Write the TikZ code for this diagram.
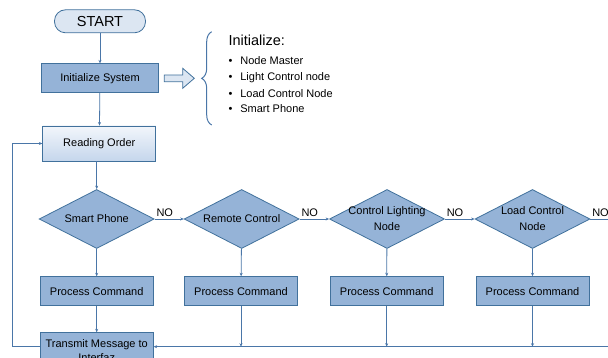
\documentclass[tikz,border=0pt]{standalone}
\usepackage{fontspec}
\setmainfont{Liberation Sans}
\usetikzlibrary{shapes.geometric,arrows.meta,decorations.pathreplacing,calc}
\definecolor{bfill}{HTML}{95B3D7}
\definecolor{bdraw}{HTML}{41719C}
\definecolor{lcol}{HTML}{4A76A8}
\definecolor{sfill}{HTML}{DCE6F2}
\definecolor{rtop}{HTML}{F2F6FB}
\definecolor{rbot}{HTML}{C5D6EC}
\begin{document}
\begin{tikzpicture}[x=1pt,y=-1pt,
  font=\fontsize{11}{13.5}\selectfont,
  startbox/.style={draw=bdraw, fill=sfill, line width=0.8pt, rounded corners=11pt,
    minimum width=91pt, minimum height=23pt, inner sep=0pt, font=\fontsize{14.5}{16}\selectfont},
  pbox/.style={draw=bdraw, fill=bfill, line width=0.8pt, minimum width=113pt,
    minimum height=29pt, inner sep=1pt},
  rbox/.style={draw=bdraw, top color=rtop, bottom color=rbot, line width=0.8pt,
    minimum width=113pt, minimum height=35pt, inner sep=1pt},
  dia/.style={shape=diamond, draw=bdraw, fill=bfill, line width=0.8pt,
    minimum width=115pt, minimum height=59pt, inner sep=0pt},
  conn/.style={draw=lcol, line width=0.8pt, -{Stealth[length=3.5pt,width=3pt]}},
  plain/.style={draw=lcol, line width=0.8pt},
  nolab/.style={anchor=south west, inner sep=1.5pt},
  itm/.style={anchor=west, inner sep=0pt, text height=8pt, text depth=2pt}
]
\useasboundingbox (0,0) rectangle (608,358);
\clip (0,0) rectangle (608,358);

% main column
\node[startbox] (start) at (100,21.3) {START};
\node[pbox, minimum width=117pt] (init) at (100,78.3) {Initialize System};
\node[rbox] (read) at (99.3,143.5) {Reading Order};

% decisions
\node[dia, label={[align=center, inner sep=0pt]center:Smart Phone}] (d1) at (96.7,219) {};
\node[dia, label={[align=center, inner sep=0pt]center:Remote Control}] (d2) at (241.7,219) {};
\node[dia, label={[align=center, inner sep=0pt, font=\fontsize{11}{16}\selectfont]center:Control Lighting\\Node}] (d3) at (387,219) {};
\node[dia, label={[align=center, inner sep=0pt, font=\fontsize{11}{16}\selectfont]center:Load Control\\Node}] (d4) at (532.5,219) {};

% process boxes
\node[pbox] (p1) at (96.7,291.2) {Process Command};
\node[pbox] (p2) at (241,291.2) {Process Command};
\node[pbox] (p3) at (386.7,291.2) {Process Command};
\node[pbox] (p4) at (532.5,291.2) {Process Command};

\node[pbox, anchor=north, minimum height=36pt, align=center, inner sep=1pt,
  font=\fontsize{11}{14}\selectfont] (tm) at (96.7,332.3) {Transmit Message to\\Interfaz};

% initialize list
\draw[draw=bdraw, fill=sfill, line width=0.8pt]
  (164.3,75) -- (182.7,75) -- (182.7,68.3) -- (194.3,78.3) -- (182.7,88.3)
  -- (182.7,81.7) -- (164.3,81.7) -- cycle;
\draw[draw=lcol, line width=1pt, decorate, decoration={brace, amplitude=10pt}]
  (211.7,125) -- (211.7,31.7);
\node[itm, font=\fontsize{14.5}{16}\selectfont] (ini) at (228.3,42.3) {Initialize:};
\node[itm] (i1) at (228.3,61.7) {\textbullet\hspace{8pt}Node Master};
\node[itm] (i2) at (228.3,77.7) {\textbullet\hspace{8pt}Light Control node};
\node[itm] (i3) at (228.3,94.3) {\textbullet\hspace{8pt}Load Control Node};
\node[itm] (i4) at (228.3,110) {\textbullet\hspace{8pt}Smart Phone};

% connectors
\coordinate (rend) at (608,219);
\coordinate (br) at (608,346.7);
\coordinate (bl) at (12.7,346.7);

\draw[conn] (start) -- (init);
\draw[conn] (init) -- (read);
\draw[conn] (read.south -| d1.north) -- (d1.north);
\draw[conn] (d1) -- (p1);
\draw[conn] (p1) -- (tm);
\draw[conn] (d2) -- (p2);
\draw[conn] (d3) -- (p3);
\draw[conn] (d4) -- (p4);

\draw[conn] (d1.east) -- node[nolab, at start] (no1) {NO} (d2.west);
\draw[conn] (d2.east) -- node[nolab, at start] (no2) {NO} (d3.west);
\draw[conn] (d3.east) -- node[nolab, at start] (no3) {NO} (d4.west);
\draw[plain] (d4.east) -- node[nolab, at start] (no4) {NO} (rend);

\draw[conn] (br) -- (tm.east |- br);
\draw[conn] (p2) -- (p2 |- br);
\draw[conn] (p3) -- (p3 |- br);
\draw[conn] (p4) -- (p4 |- br);
\draw[conn] (tm.west |- bl) -- (bl) |- (read.west);
\end{tikzpicture}
\end{document}
